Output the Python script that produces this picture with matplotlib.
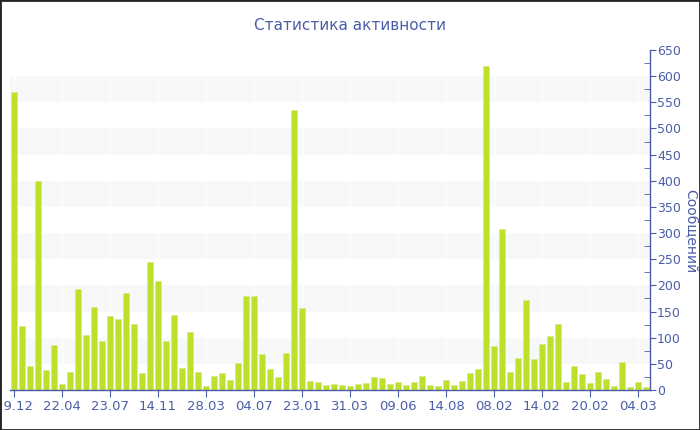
import matplotlib
matplotlib.use("Agg")
import matplotlib.pyplot as plt
from matplotlib.patches import Rectangle
from matplotlib.ticker import MultipleLocator

values = [570, 123, 45, 399, 38, 86, 11, 35, 193, 106,
          158, 94, 141, 135, 186, 127, 33, 245, 208, 94,
          144, 43, 110, 34, 8, 26, 33, 20, 52, 180,
          180, 68, 40, 24, 70, 536, 156, 17, 15, 9,
          12, 10, 8, 12, 13, 24, 23, 11, 16, 10,
          16, 26, 10, 8, 19, 10, 17, 32, 40, 620,
          84, 308, 34, 62, 173, 59, 87, 103, 127, 15,
          45, 30, 13, 34, 21, 8, 53, 6, 15, 6]
tick_labels = ['29.12', '22.04', '23.07', '14.11', '28.03', '04.07', '23.01',
               '31.03', '09.06', '14.08', '08.02', '14.02', '20.02', '04.03']
tick_step = 6
title = 'Статистика активности'
ylabel = 'Сообщений'

blue = '#4a5ea8'
bar_color = '#bde02c'

fig = plt.figure(figsize=(7, 4.3), dpi=100)
ax = fig.add_axes([10/700, 1-390/430, 640/700, 340/430])

x = list(range(len(values)))
ax.set_xlim(-0.5, len(values) - 0.5)
ax.set_ylim(0, 650)

# alternating bands
for lo in range(50, 650, 100):
    ax.axhspan(lo, lo + 50, color='#f8f8f8', zorder=0, lw=0)

ticks = list(range(0, len(values), tick_step))[:len(tick_labels)]
for t in ticks:
    ax.axvline(t, color='white', lw=0.8, zorder=0.5)

ax.bar(x, values, width=0.75, color=bar_color, edgecolor='#d6ee86',
       linewidth=0.6, zorder=2)

ax.set_xticks(ticks)
ax.set_xticklabels(tick_labels)

ax.yaxis.tick_right()
ax.yaxis.set_major_locator(MultipleLocator(50))
ax.yaxis.set_minor_locator(MultipleLocator(25))
ax.tick_params(axis='y', which='major', direction='out', length=4, color=blue,
               labelcolor=blue, labelsize=9, pad=1)
ax.tick_params(axis='y', which='minor', direction='in', length=4, color=blue)
ax.tick_params(axis='x', direction='out', length=5, color=blue,
               labelcolor=blue, labelsize=9.5, pad=2)

fig.text(690/700, 1 - 231/430, ylabel, rotation=-90, ha='center', va='center',
         color=blue, fontsize=10)

for s in ['top', 'left']:
    ax.spines[s].set_visible(False)
for s in ['bottom', 'right']:
    ax.spines[s].set_color(blue)
    ax.spines[s].set_linewidth(1)

fig.text(0.5, 1 - 25/430, title, ha='center', va='center', color=blue,
         fontsize=11)

fig.patches.append(Rectangle((0, 0), 1, 1, transform=fig.transFigure,
                             fill=False, edgecolor='#222222', lw=2))

fig.savefig('out.png', dpi=100)
